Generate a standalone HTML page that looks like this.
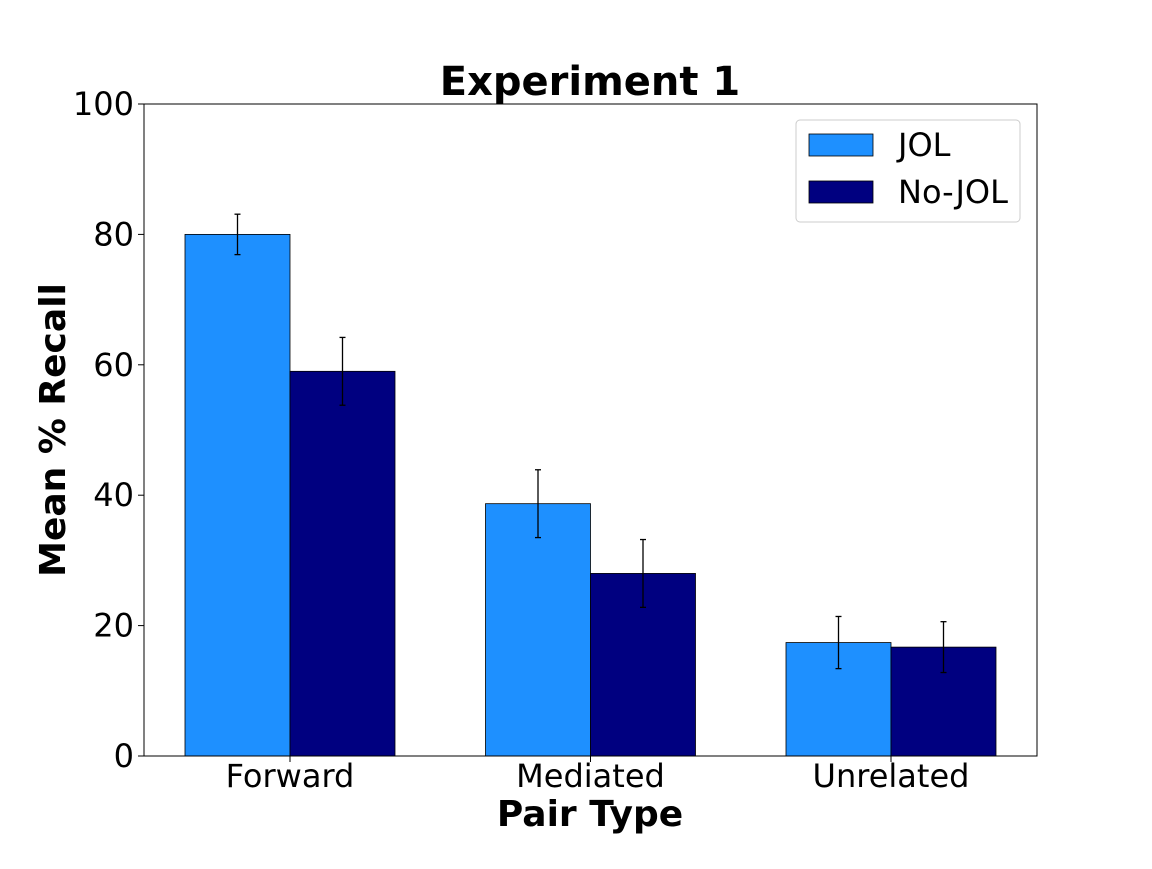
<!DOCTYPE html>
<html><head><meta charset="utf-8"><style>body{margin:0;background:#fff}</style></head>
<body>
<svg width="1152" height="864" xmlns="http://www.w3.org/2000/svg" font-family="DejaVu Sans, Liberation Sans, sans-serif">
<g id="plot"></g>
</svg>
<script>
const categories = ["Forward", "Mediated", "Unrelated"];
const jolValues = [80, 38.7, 17.4];
const jolErrors = [3.1, 5.2, 4.0];
const nojolValues = [59, 28, 16.7];
const nojolErrors = [5.2, 5.2, 3.9];
const yTicks = [0, 20, 40, 60, 80, 100];

const L=144,R=1037,T=104,B=756;
const ns="http://www.w3.org/2000/svg";
const g=document.getElementById('plot');
const xs=i=>290+i*300.5;
const ys=v=>B-(v/100)*(B-T);
const bw=105;
function mk(tag,attrs,parent){const e=document.createElementNS(ns,tag);for(const k in attrs)e.setAttribute(k,attrs[k]);(parent||g).appendChild(e);return e;}

const series=[{vals:jolValues,err:jolErrors,color:"#1e90ff",off:-bw,name:"jol"},{vals:nojolValues,err:nojolErrors,color:"#000080",off:0,name:"nojol"}];
series.forEach(s=>{
  s.vals.forEach((v,i)=>{
    const r=mk('rect',{x:xs(i)+s.off,y:ys(v),width:bw,height:B-ys(v),fill:s.color,stroke:"#000","stroke-width":0.8});
    
    
  });
});
series.forEach(s=>{
  s.vals.forEach((v,i)=>{
    const cx=xs(i)+s.off+bw/2;
    const eg=mk('g',{stroke:"#000","stroke-width":1.3});
    
    
    mk('line',{x1:cx,x2:cx,y1:ys(v+s.err[i]),y2:ys(v-s.err[i])},eg);
    mk('line',{x1:cx-3,x2:cx+3,y1:ys(v+s.err[i]),y2:ys(v+s.err[i])},eg);
    mk('line',{x1:cx-3,x2:cx+3,y1:ys(v-s.err[i]),y2:ys(v-s.err[i])},eg);
  });
});
const frame=mk('rect',{x:L,y:T,width:R-L,height:B-T,fill:"none",stroke:"#000","stroke-width":1});


yTicks.forEach(t=>{
  mk('line',{x1:L-6,x2:L,y1:ys(t),y2:ys(t),stroke:"#000"});
  const tx=mk('text',{x:L-10,y:ys(t)+11,"text-anchor":"end","font-size":32});
  tx.textContent=t;
  
  
});
categories.forEach((c,i)=>{
  mk('line',{x1:xs(i),x2:xs(i),y1:B,y2:B+6,stroke:"#000"});
  const tx=mk('text',{x:xs(i),y:787,"text-anchor":"middle","font-size":32});
  tx.textContent=c;
  
  
});
function label(txt,attrs,name){const t=mk('text',attrs);t.textContent=txt;}
label("Experiment 1",{x:590,y:95,"text-anchor":"middle","font-size":40,"font-weight":"bold"},'chart-title');
label("Pair Type",{x:590,y:826,"text-anchor":"middle","font-size":36,"font-weight":"bold"},'x-axis-title');
label("Mean % Recall",{x:0,y:0,"text-anchor":"middle","font-size":36,"font-weight":"bold",transform:"translate(65,430) rotate(-90)"},'y-axis-title');
const lg=mk('g',{});


mk('rect',{x:796,y:120,width:224,height:102,rx:4,fill:"#fff",stroke:"#ccc"},lg);
mk('rect',{x:809,y:134,width:64,height:22,fill:"#1e90ff",stroke:"#000","stroke-width":0.8},lg);
mk('rect',{x:809,y:181,width:64,height:22,fill:"#000080",stroke:"#000","stroke-width":0.8},lg);
const t1=mk('text',{x:898,y:156,"font-size":32},lg);t1.textContent="JOL";
const t2=mk('text',{x:898,y:203,"font-size":32},lg);t2.textContent="No-JOL";
</script>
</body></html>
